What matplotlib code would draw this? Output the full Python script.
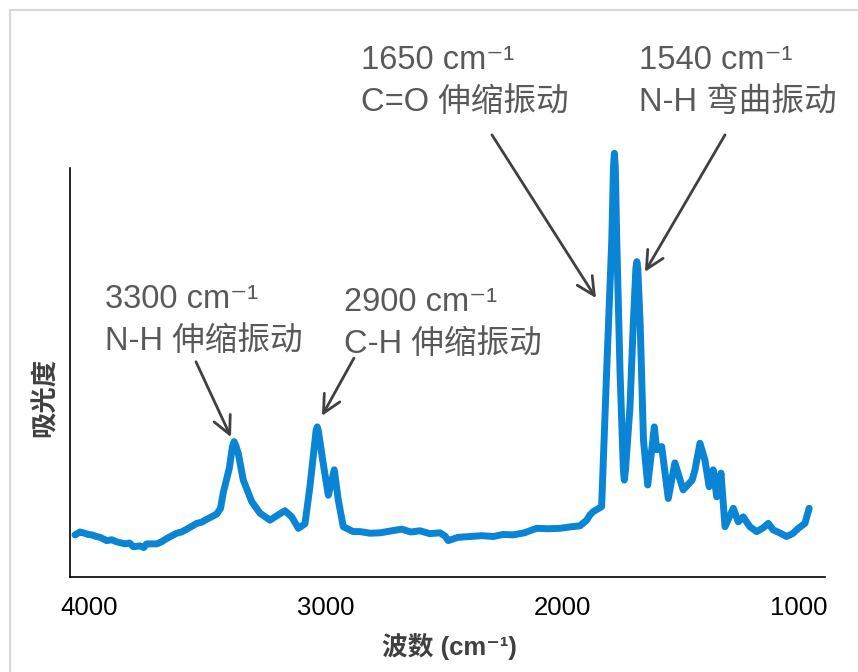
import numpy as np
import matplotlib.pyplot as plt
from matplotlib.patches import Rectangle

plt.rcParams['font.family'] = ['Liberation Sans', 'Noto Sans CJK SC', 'DejaVu Sans']

# IR spectrum (wavenumber in cm-1, absorbance in arb. units)
wavenumber = [4061, 4040, 4026, 4005, 3990, 3970, 3955, 3927, 3905, 3885,
              3849, 3830, 3814, 3786, 3770, 3758, 3715, 3695, 3673, 3631,
              3610, 3588, 3546, 3525, 3504, 3461, 3445, 3434, 3408, 3395,
              3388, 3381, 3370, 3349, 3313, 3278, 3236, 3201, 3173, 3144,
              3116, 3088, 3067, 3041, 3036, 3031, 3011, 2989, 2964, 2947,
              2926, 2884, 2855, 2813, 2771, 2720, 2679, 2640, 2602, 2560,
              2517, 2495, 2482, 2440, 2390, 2340, 2291, 2250, 2207, 2160,
              2108, 2060, 2009, 1960, 1925, 1896, 1882, 1868, 1833, 1812,
              1790, 1783, 1779, 1775, 1769, 1755, 1741, 1737, 1732, 1713,
              1699, 1688, 1684, 1680, 1670, 1656, 1638, 1610, 1600, 1579,
              1551, 1523, 1488, 1450, 1438, 1417, 1396, 1378, 1361, 1346,
              1328, 1311, 1276, 1255, 1234, 1206, 1177, 1150, 1128, 1107,
              1080, 1051, 1025, 1001, 973, 955]
absorbance = [0.103, 0.110, 0.108, 0.104, 0.103, 0.099, 0.097, 0.089, 0.091, 0.086,
              0.081, 0.083, 0.074, 0.076, 0.072, 0.081, 0.081, 0.086, 0.094, 0.107,
              0.110, 0.117, 0.131, 0.134, 0.141, 0.154, 0.168, 0.205, 0.266, 0.318,
              0.331, 0.322, 0.302, 0.237, 0.184, 0.156, 0.139, 0.152, 0.162, 0.147,
              0.119, 0.130, 0.221, 0.358, 0.367, 0.356, 0.278, 0.200, 0.262, 0.188,
              0.123, 0.111, 0.111, 0.107, 0.108, 0.113, 0.117, 0.110, 0.113, 0.106,
              0.108, 0.100, 0.089, 0.097, 0.099, 0.101, 0.099, 0.104, 0.103, 0.108,
              0.119, 0.118, 0.119, 0.123, 0.125, 0.139, 0.152, 0.160, 0.172, 0.499,
              0.824, 1.000, 1.036, 1.000, 0.824, 0.499, 0.262, 0.237, 0.262, 0.416,
              0.620, 0.755, 0.771, 0.755, 0.620, 0.335, 0.225, 0.367, 0.311, 0.319,
              0.192, 0.279, 0.213, 0.237, 0.262, 0.327, 0.286, 0.221, 0.262, 0.196,
              0.254, 0.123, 0.168, 0.135, 0.147, 0.123, 0.111, 0.120, 0.131, 0.115,
              0.108, 0.099, 0.106, 0.119, 0.131, 0.168]

xticks = [4000, 3000, 2000, 1000]

# peak labels: text, top-left corner (figure px), arrow start, arrow tip (data)
labels = ['3300 cm⁻¹\nN-H 伸缩振动', '2900 cm⁻¹\nC-H 伸缩振动',
          '1650 cm⁻¹\nC=O 伸缩振动', '1540 cm⁻¹\nN-H 弯曲振动']
label_px = [(105, 284), (344, 287), (361, 45), (639, 45)]
arrow_from = [(3549, 0.526), (2881, 0.535), (2297, 1.081), (1311, 1.081)]
arrow_to = [(3401, 0.342), (3016, 0.394), (1857, 0.682), (1650, 0.746)]

W, H = 858, 672
fig = plt.figure(figsize=(W / 100, H / 100), dpi=100)
ax = fig.add_axes([70 / W, 1 - 577 / H, 755 / W, 409 / H])

ax.plot(wavenumber, absorbance, color='#0a84d4', linewidth=5,
        solid_joinstyle='round', solid_capstyle='round', clip_on=False)

ax.set_xlim(4082, 888)
ax.set_ylim(0, 1)
ax.set_xticks(xticks)
ax.set_xticklabels([str(t) for t in xticks], fontsize=18.5)
ax.set_yticks([])
ax.tick_params(axis='x', length=0, pad=14, colors='black')
for s in ['top', 'right']:
    ax.spines[s].set_visible(False)
for s in ['left', 'bottom']:
    ax.spines[s].set_color('black')
    ax.spines[s].set_linewidth(1.2)

# arrows + text
for txt, tp, a0, a1 in zip(labels, label_px, arrow_from, arrow_to):
    fig.text(tp[0] / W, 1 - tp[1] / H, txt, fontsize=23.5, color='#595959',
             ha='left', va='top', linespacing=1.45)
    ax.annotate('', xy=a1, xytext=a0, annotation_clip=False,
                arrowprops=dict(arrowstyle='->', color='#404040', lw=2,
                                mutation_scale=32, shrinkA=0, shrinkB=0))

fig.text(449 / W, 1 - 646 / H, '波数 (cm⁻¹)', fontsize=18.5, fontweight='bold',
         color='#404040', ha='center', va='center')
fig.text(45 / W, 1 - 397 / H, '吸光度', fontsize=19, fontweight='bold',
         color='#404040', ha='center', va='center', rotation=90)

# light grey frame round the picture
fig.patches.append(Rectangle((10 / W, -0.1), 1.2, 1.1 - 10 / H, transform=fig.transFigure,
                             fill=False, edgecolor='#d9d9d9', linewidth=1.5))

plt.savefig('out.png', dpi=100)
